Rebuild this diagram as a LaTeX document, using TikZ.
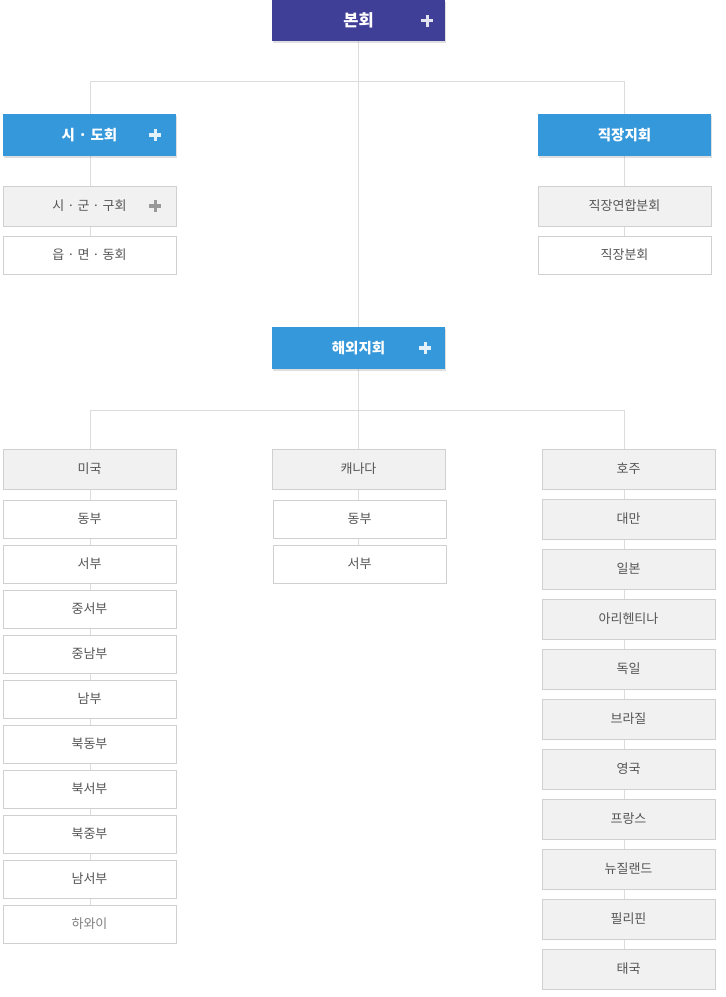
\documentclass[tikz,border=0pt]{standalone}
\usepackage{fontspec}
\setmainfont{Noto Sans CJK KR}
\usetikzlibrary{positioning, calc, backgrounds, shadows}
\definecolor{topblue}{RGB}{64, 63, 152}
\definecolor{headblue}{RGB}{52, 152, 219}
\definecolor{linegray}{RGB}{220, 220, 220}
\definecolor{boxline}{RGB}{208, 208, 208}
\definecolor{boxfill}{RGB}{241, 241, 241}
\definecolor{txtgray}{RGB}{85, 85, 85}

\tikzset{
  orgbox/.style={inner sep=0pt, minimum width=173pt, text=txtgray, font=\fontsize{13}{15}\selectfont},
  topbox/.style={orgbox, fill=topblue, minimum height=41pt, text=white,
    font=\fontsize{16.5}{19}\selectfont\bfseries,
    drop shadow={shadow xshift=1pt, shadow yshift=-1.5pt, opacity=0.25}},
  headbox/.style={orgbox, fill=headblue, minimum height=42pt, text=white,
    font=\fontsize{14.5}{17}\selectfont\bfseries,
    drop shadow={shadow xshift=1pt, shadow yshift=-1.5pt, opacity=0.25}},
  greybox/.style={orgbox, draw=boxline, fill=boxfill, minimum height=40pt},
  whitebox/.style={orgbox, draw=boxline, fill=white, minimum height=38pt},
  plussign/.style={inner sep=0pt, minimum size=12pt, path picture={
      \fill ([xshift=-6pt, yshift=-1.6pt]path picture bounding box.center) rectangle ++(12pt,3.2pt);
      \fill ([xshift=-1.6pt, yshift=-6pt]path picture bounding box.center) rectangle ++(3.2pt,12pt);}},
  orgline/.style={draw=linegray, line width=1pt}
}

\begin{document}
\begin{tikzpicture}[x=1pt, y=-1pt]
  \useasboundingbox (0,0) rectangle (726,997);

  % head office
  \node[topbox] (bonhoe) at (358.5,20.5) {본회};
  \node[plussign, color=white!85!topblue] (bonhoeplus) at ($(bonhoe.east)+(-18,0)$) {};

  % domestic branches
  \node[headbox] (sido) at (89.5,135) {시 · 도회};
  \node[plussign, color=white!85!headblue] (sidoplus) at ($(sido.east)+(-21,0)$) {};
  \node[headbox] (jikjang) at (624.5,135) {직장지회};
  \node[greybox] (sigungu) at (89.5,206) {시 · 군 · 구회};
  \node[plussign, color=black!40] (sigunguplus) at ($(sigungu.east)+(-21,0)$) {};
  \node[whitebox] (eup) at (89.5,255) {읍 · 면 · 동회};
  \node[greybox] (yeonhap) at (624.5,206) {직장연합분회};
  \node[whitebox] (jbunhoe) at (624.5,255) {직장분회};

  % overseas branches
  \node[headbox] (haeoe) at (358.5,348) {해외지회};
  \node[plussign, color=white!85!headblue] (haeoeplus) at ($(haeoe.east)+(-20,0)$) {};

  \node[greybox] (miguk) at (89.5,469) {미국};
  \foreach \name/\txt [count=\i from 0] in {us0/동부, us1/서부, us2/중서부, us3/중남부,
      us4/남부, us5/북동부, us6/북서부, us7/북중부, us8/남서부}
    \node[whitebox] (\name) at (89.5,519+45*\i) {\txt};
  \node[whitebox, text=black!50] (us9) at (89.5,924) {하와이};

  \node[greybox] (canada) at (358.5,469) {캐나다};
  \node[whitebox] (ca0) at (359.5,519) {동부};
  \node[whitebox] (ca1) at (359.5,564) {서부};

  \node[greybox] (hoju) at (628.5,469) {호주};
  \foreach \name/\txt [count=\i] in {etc1/대만, etc2/일본, etc3/아리헨티나, etc4/독일,
      etc5/브라질, etc6/영국, etc7/프랑스, etc8/뉴질랜드, etc9/필리핀, etc10/태국}
    \node[greybox] (\name) at (628.5,469+50*\i) {\txt};

  % junctions
  \coordinate (j1) at (90,81);
  \coordinate (j2) at (624,81);
  \coordinate (k0) at (358.5,410);
  \coordinate (k1) at (90,410);
  \coordinate (k3) at (624,410);

  \begin{scope}[on background layer]
    \draw[orgline] (bonhoe) -- (haeoe);
    \draw[orgline] (j1) -- (j2);
    \draw[orgline] (j1) -- (j1 |- eup.center);
    \draw[orgline] (j2) -- (j2 |- jbunhoe.center);
    \draw[orgline] (haeoe) -- (k0);
    \draw[orgline] (k1) -- (k3);
    \draw[orgline] (k1) -- (k1 |- us9.center);
    \draw[orgline] (k0) -- (k0 |- ca1.center);
    \draw[orgline] (k3) -- (k3 |- etc10.center);
  \end{scope}
\end{tikzpicture}
\end{document}
